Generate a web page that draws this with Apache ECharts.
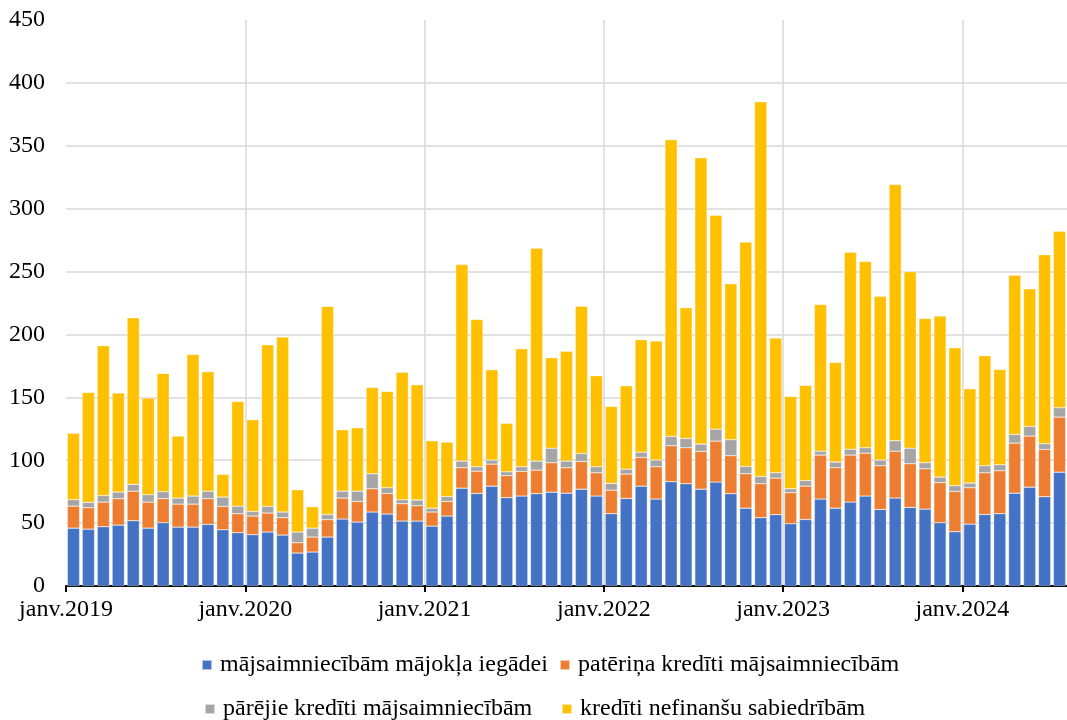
<!DOCTYPE html>
<html>
<head>
<meta charset="utf-8">
<script src="https://cdn.jsdelivr.net/npm/echarts@6/dist/echarts.min.js"></script>
<style>
html,body{margin:0;padding:0;background:#fff;}
#chart{width:1067px;height:720px;}
</style>
</head>
<body>
<div id="chart"></div>
<script>
var years = [2019, 2020, 2021, 2022, 2023, 2024];
var monthsInLastYear = 7;
var tickLabels = ['janv.2019', 'janv.2020', 'janv.2021', 'janv.2022', 'janv.2023', 'janv.2024'];
var seriesNames = ['mājsaimniecībām mājokļa iegādei', 'patēriņa kredīti mājsaimniecībām', 'pārējie kredīti mājsaimniecībām', 'kredīti nefinanšu sabiedrībām'];

var housing = [46,45.2,47.1,48.4,51.9,46,50.3,46.8,46.8,49,44.7,42.4,
  40.8,42.9,40.5,26.2,27,38.9,53.2,50.8,58.8,57.2,51.6,51.6,
  47.6,55.6,77.8,73.6,79.4,70.2,71.5,73.4,74.6,73.8,77,71.5,
  57.5,69.6,79.4,69.1,82.9,81.3,77,82.6,73.4,61.9,54.3,56.7,
  49.5,52.9,69.1,61.9,66.7,71.5,60.9,69.9,62.5,61.1,50.3,43.2,
  49.2,56.9,57.5,73.8,78.6,71,90.5];
var consumer = [17.5,17,19.6,21,23.5,20.7,19.1,18.3,18.3,20.4,18.6,15.1,
  14.8,15.1,13.8,8.2,11.9,13.8,16.7,16.4,18.5,16.4,13.8,12.2,
  11.2,11.6,16.2,17.7,17.5,17.5,19.6,18.7,23.4,20.2,22,18.5,
  18.7,19.4,22.8,25.7,28.6,28.6,30,32.6,30.2,27.4,27,29.1,
  24.7,26.5,35,32.1,37.4,34.1,34.7,37.3,34.7,32.1,31.8,32,
  28.9,33.1,34.2,39.8,40.6,37.6,43.8];
var otherHH = [5.1,4.3,5.3,5.3,5.4,5.9,5.6,4.8,6.4,6,7.4,6,
  3.7,5.3,4.5,8.5,7.1,4.2,5.5,8.2,11.9,4.5,3.2,4.5,
  3.1,4,5.3,3.5,3.2,3.1,3.7,7.2,11.6,5.3,6.4,4.8,
  5.4,3.9,4.2,5.3,7.4,7.4,5.8,9.5,12.7,5.8,5.8,4.2,
  3.1,4.5,3.1,4.5,4.7,4.3,4.5,8.3,12.4,4.8,4.5,4.5,
  3.7,5.6,4.7,6.9,7.7,4.5,7.4];
var corporate = [52.9,87.4,119,78.7,132.4,76.8,94,49.3,112.6,94.9,18,83.2,
  72.9,128.5,139.1,33.6,17,165.4,48.8,50.4,68.7,76.6,101.4,91.7,
  53.6,43.2,156.3,117.1,71.8,38.5,93.8,169.3,71.9,87.4,117.1,72.4,
  61.2,66.3,89.4,94.6,235.9,103.9,227.7,170.1,124,178.3,297.9,107.1,
  73.4,75.6,116.6,79.2,156.6,148.1,130.3,203.7,140.2,114.7,128,109.7,
  75,87.5,75.8,126.6,109.4,150.3,140.4];

var categories = [];
years.forEach(function (y, yi) {
  var n = yi === years.length - 1 ? monthsInLastYear : 12;
  for (var m = 1; m <= n; m++) categories.push(y + '-' + (m < 10 ? '0' + m : m));
});

var colors = ['#4472C4', '#ED7D31', '#A5A5A5', '#FFC000'];
var font = "'Times New Roman', 'Liberation Serif', serif";
var grid = '#d9d9d9';
var values = [housing, consumer, otherHH, corporate];
var legendPos = [[201, 653], [559, 653], [204, 697], [561, 697]];

var chart = echarts.init(document.getElementById('chart'), null, {renderer: 'canvas'});
chart.setOption({
  animation: false,
  backgroundColor: '#fff',
  color: colors,
  grid: {left: 66, right: 0, top: 20, bottom: 134, containLabel: false},
  legend: seriesNames.map(function (n, i) {
    return {data: [n], left: legendPos[i][0], top: legendPos[i][1], itemWidth: 10, itemHeight: 10,
      icon: 'rect', padding: 0,
      textStyle: {fontFamily: font, fontSize: 24, color: '#000', padding: [0, 0, 0, 3]}};
  }),
  xAxis: [
    {type: 'category', data: categories, show: false, boundaryGap: true},
    {type: 'value', min: 0, max: categories.length, interval: 12, position: 'bottom',
     axisLine: {show: true, lineStyle: {color: '#000', width: 2}},
     axisTick: {show: true, length: 6, lineStyle: {color: '#000', width: 2}},
     splitLine: {show: true, lineStyle: {color: ['rgba(0,0,0,0)', grid, grid, grid, grid, grid, 'rgba(0,0,0,0)'], width: 1.5}},
     axisLabel: {fontFamily: font, fontSize: 24, color: '#000', margin: 12, showMaxLabel: false,
       formatter: function (v) { return v % 12 === 0 ? (tickLabels[v / 12] || '') : ''; }}}
  ],
  yAxis: {
    type: 'value', min: 0, max: 450, interval: 50,
    axisLine: {show: false}, axisTick: {show: false},
    splitLine: {show: true, lineStyle: {color: [grid, grid, grid, grid, grid, grid, grid, grid, grid, 'rgba(0,0,0,0)'], width: 1.5}},
    axisLabel: {fontFamily: font, fontSize: 24, color: '#000', margin: 21}
  },
  series: values.map(function (arr, i) {
    return {
      name: seriesNames[i], type: 'bar', stack: 'total', xAxisIndex: 0,
      barCategoryGap: '18%', data: arr,
      itemStyle: {color: colors[i], borderColor: 'rgba(255,255,255,0.6)', borderWidth: 0.5}
    };
  })
});
</script>
</body>
</html>
